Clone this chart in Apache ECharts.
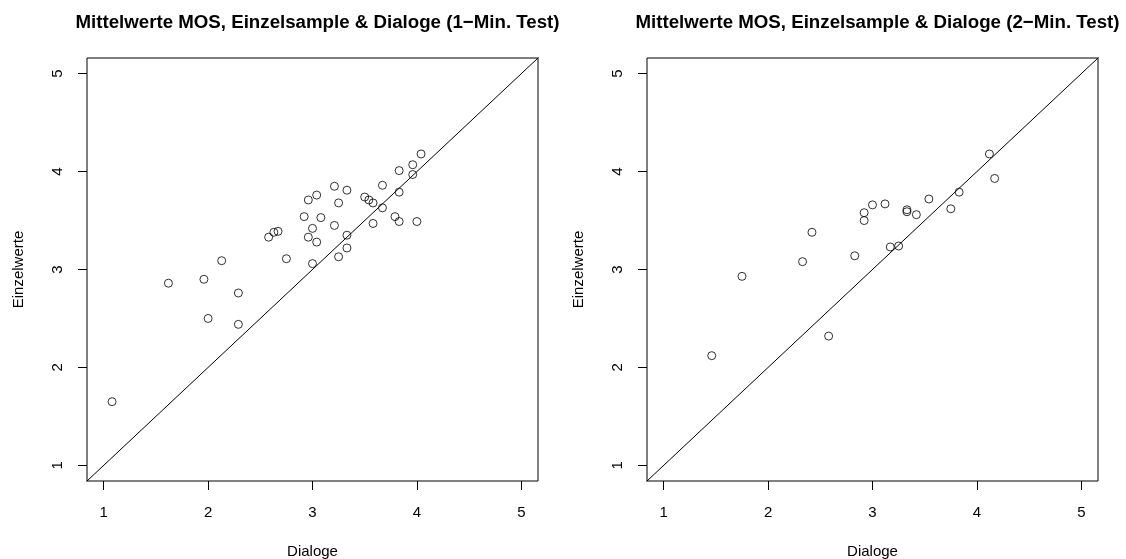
<!DOCTYPE html>
<html>
<head>
<meta charset="utf-8">
<script src="https://cdn.jsdelivr.net/npm/echarts@6/dist/echarts.min.js"></script>
<style>
  html, body { margin:0; padding:0; background:#fff; }
  #chart { width:1126px; height:559px; }
</style>
</head>
<body>
<div id="chart"></div>
<script>
// ---- data ------------------------------------------------------------------
const titles = [
  'Mittelwerte MOS, Einzelsample & Dialoge (1\u2212Min. Test)',
  'Mittelwerte MOS, Einzelsample & Dialoge (2\u2212Min. Test)'
];
const tickValues = [1, 2, 3, 4, 5];
const axisRange = [0.84, 5.16];      // R default: 1..5 padded by 4%
const diagonal = [[0, 0], [6, 6]];   // abline(0, 1), clipped to the box

// 1-Min. test: [Dialoge, Einzelwerte]
const dlg1 = [1.08, 1.62, 1.96, 2.13, 2.00, 2.29, 2.29, 2.58, 2.63, 2.67,
              2.75, 2.92, 2.96, 3.04, 3.00, 2.96, 3.04, 3.00, 3.08, 3.21,
              3.21, 3.25, 3.25, 3.33, 3.33, 3.33, 3.50, 3.54, 3.58, 3.58,
              3.67, 3.67, 3.79, 3.83, 3.83, 3.83, 3.96, 3.96, 4.00, 4.04];
const ein1 = [1.65, 2.86, 2.90, 3.09, 2.50, 2.76, 2.44, 3.33, 3.38, 3.39,
              3.11, 3.54, 3.71, 3.76, 3.42, 3.33, 3.28, 3.06, 3.53, 3.85,
              3.45, 3.68, 3.13, 3.81, 3.35, 3.22, 3.74, 3.71, 3.68, 3.47,
              3.86, 3.63, 3.54, 4.01, 3.79, 3.49, 4.07, 3.97, 3.49, 4.18];

// 2-Min. test
const dlg2 = [1.46, 1.75, 2.33, 2.42, 2.58, 2.83, 2.92, 2.92, 3.00, 3.12,
              3.17, 3.25, 3.33, 3.33, 3.42, 3.54, 3.75, 3.83, 4.12, 4.17];
const ein2 = [2.12, 2.93, 3.08, 3.38, 2.32, 3.14, 3.58, 3.50, 3.66, 3.67,
              3.23, 3.24, 3.61, 3.59, 3.56, 3.72, 3.62, 3.79, 4.18, 3.93];

// ---- layout ------------------------------------------------------------------
const FONT = '"Liberation Sans", Arial, Helvetica, sans-serif';
const panels = [
  { left: 87, x: dlg1, y: ein1 },
  { left: 647, x: dlg2, y: ein2 }
];
const BOX = { top: 58, width: 451, height: 423 };

const chart = echarts.init(document.getElementById('chart'), null, { renderer: 'canvas' });

function axisBase(i, isY) {
  return {
    type: 'value', gridIndex: i,
    min: axisRange[0], max: axisRange[1],
    name: isY ? 'Einzelwerte' : 'Dialoge',
    nameLocation: 'middle',
    nameGap: isY ? 61 : 63,
    nameRotate: isY ? 90 : 0,
    nameTextStyle: { color: '#000', fontSize: 15, fontFamily: FONT },
    axisLine: { show: false },
    axisTick: { show: true, customValues: tickValues, length: 9, lineStyle: { color: '#000', width: 1 } },
    axisLabel: {
      customValues: tickValues, color: '#000', fontSize: 15, fontFamily: FONT,
      margin: isY ? 22 : 24, rotate: isY ? 90 : 0
    },
    splitLine: { show: false }
  };
}

const opt = {
  backgroundColor: '#fff',
  animation: false,
  title: panels.map((p, i) => ({
    text: titles[i],
    left: p.left + BOX.width / 2, top: 8, textAlign: 'center',
    textStyle: { fontSize: 18.7, fontWeight: 'bold', color: '#000', fontFamily: FONT }
  })),
  grid: panels.map(p => ({
    left: p.left, top: BOX.top, width: BOX.width, height: BOX.height,
    outerBoundsMode: 'none', containLabel: false,
    show: true, borderColor: '#000', borderWidth: 1, backgroundColor: 'transparent'
  })),
  xAxis: panels.map((p, i) => axisBase(i, false)),
  yAxis: panels.map((p, i) => axisBase(i, true)),
  series: []
};

panels.forEach((p, i) => {
  opt.series.push({
    type: 'scatter', xAxisIndex: i, yAxisIndex: i,
    data: p.x.map((v, k) => [v, p.y[k]]),
    symbol: 'circle', symbolSize: 8,
    itemStyle: { color: 'transparent', borderColor: '#000', borderWidth: 1 }
  });
  opt.series.push({
    type: 'line', xAxisIndex: i, yAxisIndex: i,
    data: diagonal, showSymbol: false, clip: true,
    lineStyle: { color: '#000', width: 1 }
  });
});

chart.setOption(opt);
</script>
</body>
</html>
